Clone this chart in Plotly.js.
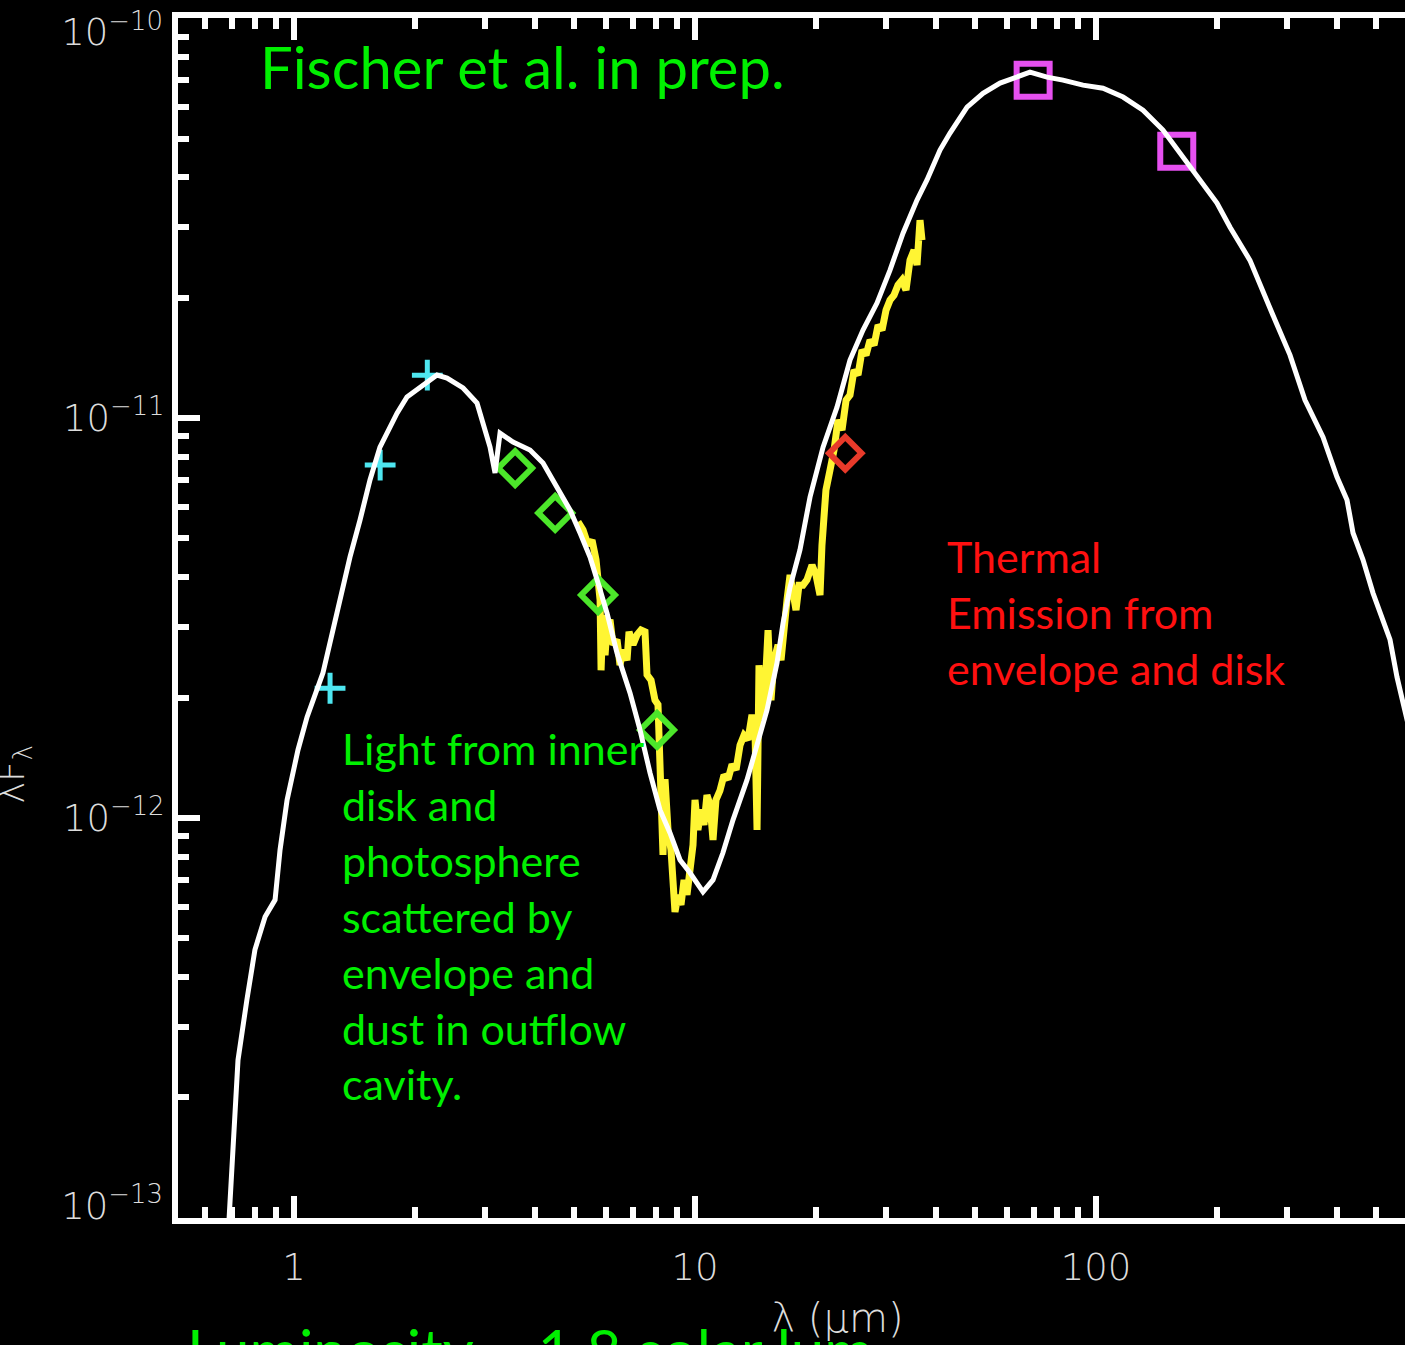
<!DOCTYPE html>
<html>
<head>
<meta charset="utf-8">
<script src="https://cdn.plot.ly/plotly-3.0.1.min.js"></script>
<style>
  html, body { margin: 0; padding: 0; background: #000; overflow: hidden; }
  #sed { width: 1560px; height: 1400px; }
</style>
</head>
<body>
<div id="sed"></div>
<script>
// Radiative transfer model SED (wavelength in micron, lambda F_lambda)
const modelWavelength = [0.684, 0.725, 0.763, 0.799, 0.847, 0.897, 0.923, 0.961, 1.023, 1.078,
  1.181, 1.244, 1.302, 1.379, 1.461, 1.547, 1.638, 1.706, 1.807, 1.913,
  2.062, 2.273, 2.408, 2.640, 2.860, 2.960, 3.082, 3.172, 3.264, 3.517,
  3.877, 4.178, 4.528, 4.878, 5.168, 5.472, 5.731, 6.034, 6.391, 6.885,
  7.292, 7.724, 8.179, 8.663, 9.176, 9.716, 10.47, 11.09, 11.74, 12.44,
  13.48, 14.53, 15.12, 16.01, 16.58, 17.26, 18.27, 19.36, 20.86, 22.60,
  24.35, 26.24, 28.43, 30.64, 33.02, 35.78, 37.89, 40.83, 43.25, 47.69,
  52.27, 57.64, 63.53, 68.45, 75.47, 82.74, 92.82, 104.1, 116.8, 131.0,
  146.9, 164.8, 181.7, 200.3, 215.9, 242.1, 279.5, 304.7, 332.0, 368.3,
  399.0, 422.6, 437.5, 463.3, 490.7, 519.6, 541.0, 563.2, 589.7, 610.0];
const modelFlux = [8.8e-14, 2.48e-13, 3.51e-13, 4.68e-13, 5.66e-13, 6.24e-13, 8.32e-13, 1.109e-12, 1.479e-12, 1.789e-12,
  2.305e-12, 2.90e-12, 3.57e-12, 4.49e-12, 5.56e-12, 7.00e-12, 8.46e-12, 9.17e-12, 1.029e-11, 1.129e-11,
  1.195e-11, 1.281e-11, 1.259e-11, 1.189e-11, 1.090e-11, 9.72e-12, 8.46e-12, 7.29e-12, 9.17e-12, 8.71e-12,
  8.32e-12, 7.72e-12, 6.72e-12, 5.89e-12, 5.16e-12, 4.49e-12, 3.87e-12, 3.25e-12, 2.585e-12, 2.054e-12,
  1.660e-12, 1.296e-12, 1.047e-12, 9.17e-13, 7.85e-13, 7.29e-13, 6.53e-13, 7.00e-13, 8.18e-13, 9.89e-13,
  1.245e-12, 1.594e-12, 1.862e-12, 2.44e-12, 3.07e-12, 3.78e-12, 4.68e-12, 6.35e-12, 8.46e-12, 1.065e-11,
  1.396e-11, 1.660e-11, 1.939e-11, 2.344e-11, 2.90e-11, 3.51e-11, 3.94e-11, 4.68e-11, 5.16e-11, 5.99e-11,
  6.49e-11, 6.88e-11, 7.12e-11, 7.33e-11, 7.12e-11, 7.00e-11, 6.80e-11, 6.68e-11, 6.35e-11, 5.89e-11,
  5.25e-11, 4.49e-11, 3.94e-11, 3.45e-11, 3.00e-11, 2.48e-11, 1.758e-11, 1.437e-11, 1.109e-11, 8.96e-12,
  7.12e-12, 6.24e-12, 5.16e-12, 4.42e-12, 3.65e-12, 3.13e-12, 2.79e-12, 2.25e-12, 1.862e-12, 1.60e-12];

// Spitzer IRS spectrum
const irsWavelength = [5.109, 5.258, 5.412, 5.537, 5.665, 5.731, 5.798, 5.831, 5.898, 5.966, 6.034,
  6.138, 6.245, 6.391, 6.501, 6.614, 6.768, 6.846, 7.005, 7.168, 7.334,
  7.505, 7.592, 7.769, 7.947, 8.085, 8.179, 8.321, 8.418, 8.564, 8.712,
  8.813, 8.915, 9.070, 9.228, 9.389, 9.550, 9.716, 9.886, 10.00, 10.17,
  10.35, 10.53, 10.71, 10.90, 11.09, 11.28, 11.54, 11.81, 12.09, 12.37,
  12.66, 12.95, 13.25, 13.56, 13.87, 14.11, 14.28, 14.44, 14.69, 14.95,
  15.21, 15.47, 15.74, 16.11, 16.39, 16.67, 16.96, 17.26, 17.56, 17.86,
  18.17, 18.59, 19.02, 19.58, 20.03, 20.50, 20.73, 21.21, 21.71, 22.22,
  22.73, 23.26, 23.81, 24.35, 24.92, 25.50, 26.10, 26.70, 27.32, 27.96,
  28.61, 29.27, 29.95, 30.64, 31.35, 32.08, 32.83, 33.59, 34.37, 35.17,
  35.78, 36.40, 36.82];
const irsFlux = [5.50e-12, 5.25e-12, 4.81e-12, 4.95e-12, 4.42e-12, 4.05e-12, 3.51e-12, 2.34e-12, 3.22e-12, 2.55e-12, 2.99e-12,
  3.13e-12, 2.71e-12, 2.79e-12, 2.41e-12, 2.63e-12, 2.48e-12, 2.92e-12, 2.71e-12, 2.87e-12, 2.95e-12,
  2.92e-12, 2.28e-12, 2.21e-12, 1.97e-12, 1.92e-12, 1.48e-12, 8.08e-13, 1.25e-12, 9.33e-13, 8.32e-13,
  7.00e-13, 5.82e-13, 6.42e-13, 6.06e-13, 7.00e-13, 6.42e-13, 7.41e-13, 8.56e-13, 1.11e-12, 9.33e-13,
  1.05e-12, 9.60e-13, 1.14e-12, 1.08e-12, 8.81e-13, 1.11e-12, 1.17e-12, 1.28e-12, 1.25e-12, 1.36e-12,
  1.32e-12, 1.52e-12, 1.61e-12, 1.57e-12, 1.81e-12, 1.66e-12, 9.33e-13, 2.41e-12, 1.76e-12, 2.09e-12,
  2.95e-12, 1.97e-12, 2.48e-12, 2.71e-12, 2.48e-12, 3.13e-12, 3.51e-12, 4.05e-12, 3.61e-12, 3.31e-12,
  3.82e-12, 3.82e-12, 3.94e-12, 4.29e-12, 4.05e-12, 3.61e-12, 4.81e-12, 6.61e-12, 7.41e-12, 8.32e-12,
  9.89e-12, 9.33e-12, 1.109e-11, 1.142e-11, 1.318e-11, 1.281e-11, 1.479e-11, 1.437e-11, 1.567e-11, 1.522e-11,
  1.708e-11, 1.660e-11, 1.862e-11, 1.972e-11, 2.030e-11, 2.150e-11, 2.213e-11, 2.089e-11, 2.483e-11, 2.630e-11,
  2.413e-11, 3.126e-11, 2.786e-11];

// Photometry
const twomassWavelength = [1.23, 1.64, 2.15];
const twomassFlux = [2.11e-12, 7.63e-12, 1.28e-11];
const iracWavelength = [3.56, 4.48, 5.73, 8.04];
const iracFlux = [7.50e-12, 5.79e-12, 3.61e-12, 1.66e-12];
const mipsWavelength = [23.7];
const mipsFlux = [8.17e-12];
const pacsWavelength = [69.7, 159];
const pacsFlux = [7.00e-11, 4.65e-11];

// Axis ticks
const xTickVals = [1, 10, 100];
const xTickText = ['1', '10', '100'];
const xMinorVals = [0.6, 0.7, 0.8, 0.9, 2, 3, 4, 5, 6, 7, 8, 9,
  20, 30, 40, 50, 60, 70, 80, 90, 200, 300, 400, 500, 600, 700, 800, 900];
const yTickVals = [1e-12, 1e-11];
const yTickText = ['10<sup>−12</sup>', '10<sup>−11</sup>'];
const yTopTickVals = [1e-10];
const yTopTickText = ['10<sup>−10</sup>'];
const yBottomTickVals = [1e-13];
const yBottomTickText = ['10<sup>−13</sup>'];
const yMinorVals = [2e-13, 3e-13, 4e-13, 5e-13, 6e-13, 7e-13, 8e-13, 9e-13,
  2e-12, 3e-12, 4e-12, 5e-12, 6e-12, 7e-12, 8e-12, 9e-12,
  2e-11, 3e-11, 4e-11, 5e-11, 6e-11, 7e-11, 8e-11, 9e-11];

const axisFont = { family: 'DejaVu Sans, sans-serif', size: 37, color: '#dcdcdc', weight: 200 };
const noteFont = 'Lato, "Open Sans", sans-serif';
const green = '#00f000';
const yRange = [-13.0005, -9.9995];

const traces = [
  { x: irsWavelength, y: irsFlux, mode: 'lines', line: { color: '#fff533', width: 7 } },
  { x: twomassWavelength, y: twomassFlux, mode: 'markers',
    marker: { symbol: 'cross-thin-open', size: 22, color: '#4ee6f0', line: { color: '#4ee6f0', width: 5 } } },
  { x: iracWavelength, y: iracFlux, mode: 'markers',
    marker: { symbol: 'diamond-open', size: 26, color: '#4ce62a', line: { color: '#4ce62a', width: 6 } } },
  { x: mipsWavelength, y: mipsFlux, mode: 'markers',
    marker: { symbol: 'diamond-open', size: 25, color: '#e83a2a', line: { color: '#e83a2a', width: 6 } } },
  { x: pacsWavelength, y: pacsFlux, mode: 'markers',
    marker: { symbol: 'square-open', size: 33, color: '#e650f0', line: { color: '#e650f0', width: 6 } } },
  { x: modelWavelength, y: modelFlux, mode: 'lines', line: { color: '#ffffff', width: 5 } },
  // empty traces that register the label-only overlay axes
  { x: [], y: [], yaxis: 'y2', mode: 'lines', hoverinfo: 'skip' },
  { x: [], y: [], yaxis: 'y3', mode: 'lines', hoverinfo: 'skip' }
];

const axisCommon = {
  type: 'log', showgrid: false, zeroline: false,
  showline: true, linecolor: '#ffffff', linewidth: 6, mirror: 'ticks',
  ticks: 'inside', ticklen: 22, tickwidth: 6, tickcolor: '#ffffff',
  tickmode: 'array', tickfont: axisFont, ticklabeloverflow: 'allow',
  minor: { ticks: 'inside', ticklen: 11, tickwidth: 6, tickcolor: '#ffffff', tickmode: 'array' }
};

// Label-only overlay axes for the two end decades of the flux axis
function labelAxis(vals, text, shift) {
  return {
    type: 'log', overlaying: 'y', anchor: 'x', side: 'left', range: yRange,
    showgrid: false, zeroline: false, showline: false, ticks: '',
    tickmode: 'array', tickvals: vals, ticktext: text, tickfont: axisFont,
    ticklabelstandoff: 14, ticklabelshift: shift, ticklabeloverflow: 'allow'
  };
}

const layout = {
  width: 1560, height: 1400,
  margin: { l: 178, r: 63, t: 18, b: 182 },
  paper_bgcolor: '#000000', plot_bgcolor: '#000000',
  showlegend: false,
  xaxis: Object.assign({}, axisCommon, {
    range: [-0.2893, 3],
    tickvals: xTickVals, ticktext: xTickText,
    ticklabelstandoff: 12,
    minor: Object.assign({}, axisCommon.minor, { tickvals: xMinorVals }),
    title: { text: 'λ (μm)', font: Object.assign({}, axisFont, { size: 40 }), standoff: 18 }
  }),
  yaxis: Object.assign({}, axisCommon, {
    range: yRange,
    tickvals: yTickVals, ticktext: yTickText,
    ticklabelstandoff: 0,
    minor: Object.assign({}, axisCommon.minor, { tickvals: yMinorVals })
  }),
  yaxis2: labelAxis(yTopTickVals, yTopTickText, 14),
  yaxis3: labelAxis(yBottomTickVals, yBottomTickText, -12),
  annotations: [
    { xref: 'paper', yref: 'paper', x: 0.061, y: 0.99, xanchor: 'left', yanchor: 'top',
      text: 'Fischer et al. in prep.', showarrow: false, align: 'left',
      font: { family: noteFont, size: 58, color: green } },
    { xref: 'paper', yref: 'paper', x: 0.1225, y: 0.414, xanchor: 'left', yanchor: 'top',
      text: 'Light from inner<br>disk and<br>photosphere<br>scattered by<br>envelope and<br>dust in outflow<br>cavity.',
      showarrow: false, align: 'left',
      font: { family: noteFont, size: 43, color: green } },
    { xref: 'paper', yref: 'paper', x: 0.5815, y: 0.574, xanchor: 'left', yanchor: 'top',
      text: 'Thermal<br>Emission from<br>envelope and disk',
      showarrow: false, align: 'left',
      font: { family: noteFont, size: 43, color: '#ff1010' } },
    { xref: 'paper', yref: 'paper', x: 0.005, y: -0.078, xanchor: 'left', yanchor: 'top',
      text: 'Luminosity = 1.8 solar lum', showarrow: false, align: 'left',
      font: { family: noteFont, size: 60, color: green } },
    { xref: 'paper', yref: 'paper', x: -0.1245, y: 0.37, xanchor: 'center', yanchor: 'middle',
      text: 'λF<sub>λ</sub>', textangle: -90, showarrow: false,
      font: axisFont }
  ]
};

Plotly.newPlot('sed', traces, layout, { staticPlot: true, displayModeBar: false });
</script>
</body>
</html>
